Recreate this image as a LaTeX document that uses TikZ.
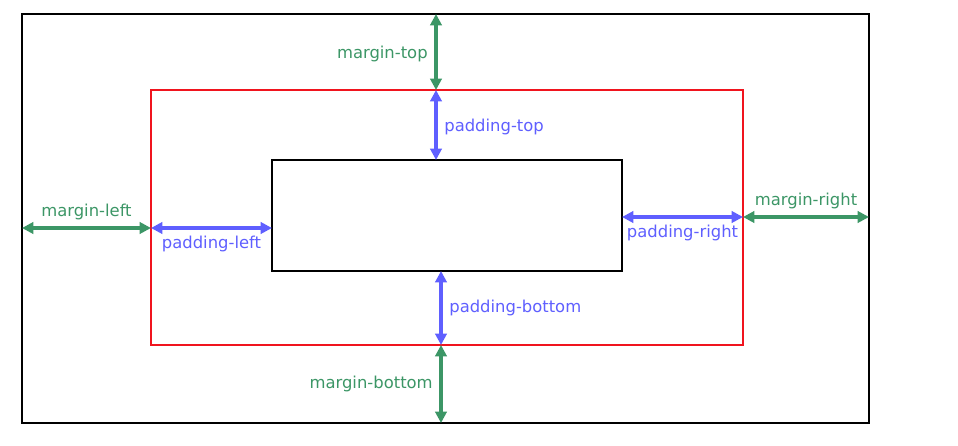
\documentclass[tikz,border=0pt]{standalone}
\usepackage{fontspec}
\setmainfont{DejaVu Sans}
\usetikzlibrary{arrows.meta}
\definecolor{margingreen}{RGB}{60,150,102}
\definecolor{paddingblue}{RGB}{95,95,255}
\definecolor{borderred}{RGB}{240,20,30}
\tikzset{
  box/.style={line width=2.2pt},
  marginarrow/.style={draw=margingreen, line width=2.5pt, {Triangle[length=8.5pt,width=8.5pt]}-{Triangle[length=8.5pt,width=8.5pt]}},
  paddingarrow/.style={draw=paddingblue, line width=2.5pt, {Triangle[length=8.5pt,width=8.5pt]}-{Triangle[length=8.5pt,width=8.5pt]}},
  marginlabel/.style={text=margingreen, font=\fontsize{12.3}{14}\selectfont, inner sep=5pt},
  paddinglabel/.style={text=paddingblue, font=\fontsize{12.3}{14}\selectfont, inner sep=5pt}
}
\begin{document}
\begin{tikzpicture}[x=0.75pt, y=-0.75pt]
    \useasboundingbox (0,0) rectangle (958,446);

    % Boxes
    \coordinate (outer-nw) at (22,14);    \coordinate (outer-se) at (869,423);
    \coordinate (border-nw) at (151,90);  \coordinate (border-se) at (743,345);
    \coordinate (content-nw) at (272,160); \coordinate (content-se) at (622,271);
    \draw[box, black] (outer-nw) rectangle (outer-se);
    \draw[box, borderred] (border-nw) rectangle (border-se);
    \draw[box, black] (content-nw) rectangle (content-se);

    % Arrow ends
    \coordinate (top-a) at (436,14);  \coordinate (top-b) at (436,90);  \coordinate (top-c) at (436,160);
    \coordinate (bot-a) at (441,271); \coordinate (bot-b) at (441,345); \coordinate (bot-c) at (441,423);
    \coordinate (left-a) at (22,228); \coordinate (left-b) at (151,228); \coordinate (left-c) at (272,228);
    \coordinate (right-a) at (622,217); \coordinate (right-b) at (743,217); \coordinate (right-c) at (869,217);

    % Margin and padding arrows
    \draw[marginarrow] (top-a) -- node[marginlabel, left, pos=0.53] {margin-top} (top-b);
    \draw[paddingarrow] (top-b) -- node[paddinglabel, right, pos=0.53] {padding-top} (top-c);
    \draw[paddingarrow] (bot-a) -- node[paddinglabel, right] {padding-bottom} (bot-b);
    \draw[marginarrow] (bot-b) -- node[marginlabel, left] {margin-bottom} (bot-c);
    \draw[marginarrow] (left-a) -- node[marginlabel, above] {margin-left} (left-b);
    \draw[paddingarrow] (left-b) -- node[paddinglabel, below] {padding-left} (left-c);
    \draw[paddingarrow] (right-a) -- node[paddinglabel, below] {padding-right} (right-b);
    \draw[marginarrow] (right-b) -- node[marginlabel, above] {margin-right} (right-c);
\end{tikzpicture}
\end{document}
